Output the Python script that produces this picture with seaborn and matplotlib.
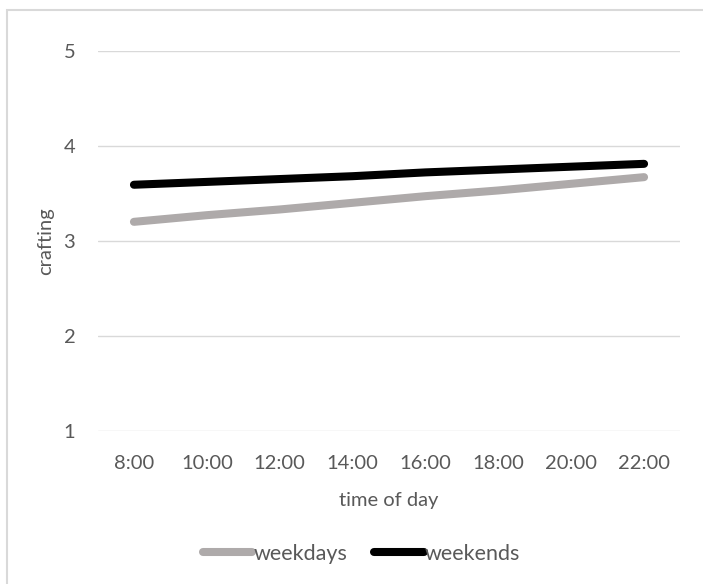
import matplotlib
matplotlib.use("Agg")
import matplotlib.pyplot as plt
import seaborn as sns
import pandas as pd
from matplotlib.patches import Rectangle
from matplotlib.lines import Line2D

# Data
times = ["8:00", "10:00", "12:00", "14:00", "16:00", "18:00", "20:00", "22:00"]
weekdays = [3.20, 3.27, 3.33, 3.40, 3.47, 3.53, 3.60, 3.67]
weekends = [3.59, 3.62, 3.65, 3.68, 3.72, 3.75, 3.78, 3.81]
series_names = ["weekdays", "weekends"]
y_ticks = [1, 2, 3, 4, 5]

df = pd.DataFrame({
    "time": list(range(len(times))) * 2,
    "crafting": weekdays + weekends,
    "group": [series_names[0]] * len(times) + [series_names[1]] * len(times),
})

sns.set_style("white")
plt.rcParams["font.family"] = ["Lato", "DejaVu Sans"]

text_color = "#595959"
grid_color = "#d9d9d9"
palette = {"weekdays": "#aeaaaa", "weekends": "#000000"}
fs = 14.5

fig = plt.figure(figsize=(7.03, 5.84), dpi=100)
ax = fig.add_axes([97.5 / 703, 1 - 431 / 584, (680.5 - 97.5) / 703, (431 - 50.7) / 584])

sns.lineplot(data=df, x="time", y="crafting", hue="group", palette=palette,
             linewidth=5.8, ax=ax, legend=False)
for line in ax.lines:
    line.set_solid_capstyle("round")

ax.set_xlim(-0.5, len(times) - 0.5)
ax.set_ylim(1, 5)
ax.set_xticks(range(len(times)))
ax.set_xticklabels(times)
ax.set_yticks(y_ticks)
ax.tick_params(axis="both", length=0, labelsize=fs, colors=text_color)
ax.tick_params(axis="x", pad=17)
ax.tick_params(axis="y", pad=16)
ax.yaxis.grid(True, color=grid_color, linewidth=1)
ax.set_axisbelow(True)
for s in ax.spines.values():
    s.set_visible(False)

ax.set_xlabel("time of day", fontsize=fs, color=text_color, labelpad=15)
ax.set_ylabel("crafting", fontsize=fs, color=text_color, labelpad=7)

handles = [Line2D([0], [0], color=palette[n], linewidth=5.8, solid_capstyle="round")
           for n in series_names]
fig.legend(handles, series_names, loc="center", bbox_to_anchor=(0.514, 1 - 554 / 584),
           ncol=2, frameon=False, fontsize=15.5, labelcolor=text_color,
           handlelength=2.3, handletextpad=0.05, columnspacing=1.25)

# chart border
fig.patches.append(Rectangle((7 / 703, -0.1), 1.2, 1 - 10 / 584 + 0.1,
                             transform=fig.transFigure, fill=False,
                             edgecolor=grid_color, linewidth=1.5))

fig.savefig("out.png", dpi=100, facecolor="white")
